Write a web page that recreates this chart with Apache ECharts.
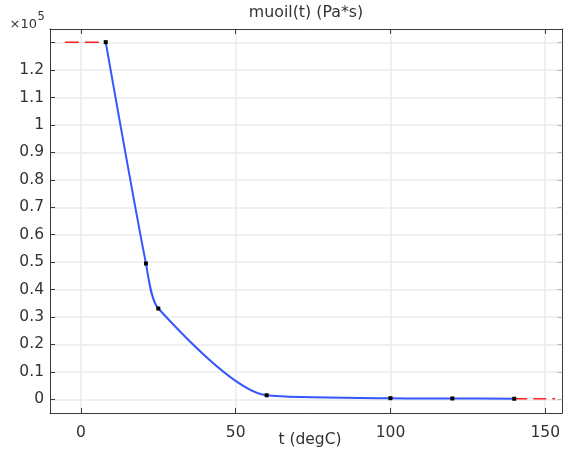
<!DOCTYPE html>
<html>
<head>
<meta charset="utf-8">
<script src="https://cdn.jsdelivr.net/npm/echarts@6/dist/echarts.min.js"></script>
<style>
  html, body { margin: 0; padding: 0; background: #fff; }
  #main { width: 563px; height: 450px; }
</style>
</head>
<body>
<div id="main"></div>
<script>
// interpolation points, t in degC, muoil in Pa*s
var tPoints = [8, 21, 25, 60, 100, 120, 140]
var muPoints = [130200, 49500, 33100, 1460, 400, 300, 200]
// extrapolated (constant) parts
var extLeftT = [-5.2, 8]
var extLeftMu = [130200, 130200]
var extRightT = [140, 153.2]
var extRightMu = [200, 200]
// ticks
var xTicks = [0, 50, 100, 150]
var yTicks = [0, 10000, 20000, 30000, 40000, 50000, 60000, 70000, 80000, 90000, 100000, 110000, 120000, 130000]
var yLabels = [0, 10000, 20000, 30000, 40000, 50000, 60000, 70000, 80000, 90000, 100000, 110000, 120000]

function pairs (xs, ys) {
  var out = []
  for (var i = 0; i < xs.length; i++) out.push([xs[i], ys[i]])
  return out
}

var myChart = echarts.init(document.getElementById('main'))

var font = 'DejaVu Sans'
var axisColor = '#3a3a3a'
var gridColor = '#ebebeb'
var fs = 15.5

var option = {
  animation: false,
  textStyle: { fontFamily: font },
  grid: { left: 50, right: 0, top: 29, bottom: 37, containLabel: false },
  graphic: [
    {
      type: 'text', x: 306, y: 13,
      style: { text: 'muoil(t) (Pa*s)', font: '15.8px ' + font, fill: '#333', textAlign: 'center', textVerticalAlign: 'middle' }
    },
    {
      type: 'text', x: 310, y: 440,
      style: { text: 't (degC)', font: fs + 'px ' + font, fill: '#333', textAlign: 'center', textVerticalAlign: 'middle' }
    },
    {
      type: 'text', x: 37, y: 24.5,
      style: { text: '×10', font: '13px ' + font, fill: '#333', textAlign: 'right', textVerticalAlign: 'middle' }
    },
    {
      type: 'text', x: 37.5, y: 17,
      style: { text: '5', font: '11.5px ' + font, fill: '#333', textAlign: 'left', textVerticalAlign: 'middle' }
    }
  ],
  xAxis: [
    {
      type: 'value', min: -10, max: 155.5,
      axisLine: { show: true, onZero: false, lineStyle: { color: axisColor, width: 1 } },
      axisTick: { show: true, inside: true, length: 5, customValues: xTicks, lineStyle: { color: axisColor } },
      axisLabel: { customValues: xTicks, color: '#333', fontSize: fs, margin: 12, fontFamily: font },
      splitLine: { show: true, lineStyle: { color: gridColor, width: 1.5 } }
    },
    {
      type: 'value', min: -10, max: 155.5, position: 'top',
      axisLine: { show: true, onZero: false, lineStyle: { color: axisColor, width: 1 } },
      axisTick: { show: true, inside: true, length: 5, customValues: xTicks, lineStyle: { color: axisColor } },
      axisLabel: { show: false },
      splitLine: { show: false }
    }
  ],
  yAxis: [
    {
      type: 'value', min: -5000, max: 135000,
      axisLine: { show: true, onZero: false, lineStyle: { color: axisColor, width: 1 } },
      axisTick: { show: true, inside: true, length: 5, customValues: yTicks, lineStyle: { color: axisColor } },
      axisLabel: {
        customValues: yLabels, color: '#333', fontSize: fs, margin: 6, fontFamily: font,
        formatter: function (v) { return String(v / 1e5) }
      },
      splitLine: { show: true, lineStyle: { color: gridColor, width: 1.5 } }
    },
    {
      type: 'value', min: -5000, max: 135000, position: 'right',
      axisLine: { show: true, onZero: false, lineStyle: { color: axisColor, width: 1 } },
      axisTick: { show: true, inside: true, length: 5, customValues: yTicks, lineStyle: { color: '#bbb' } },
      axisLabel: { show: false },
      splitLine: { show: false }
    }
  ],
  series: [
    {
      type: 'line', data: pairs(extLeftT, extLeftMu), showSymbol: false, z: 2,
      lineStyle: { color: '#ff2020', width: 1.5, type: [14, 6] }
    },
    {
      type: 'line', data: pairs(extRightT, extRightMu), showSymbol: false, z: 2,
      lineStyle: { color: '#ff2020', width: 1.5, type: [13, 6] }
    },
    {
      type: 'line', data: pairs(tPoints, muPoints), smooth: 0.25, z: 3,
      symbol: 'rect', symbolSize: 4, showSymbol: true,
      itemStyle: { color: '#000', borderWidth: 0 },
      lineStyle: { color: '#3557ff', width: 2 }
    }
  ]
}

myChart.setOption(option)
</script>
</body>
</html>
